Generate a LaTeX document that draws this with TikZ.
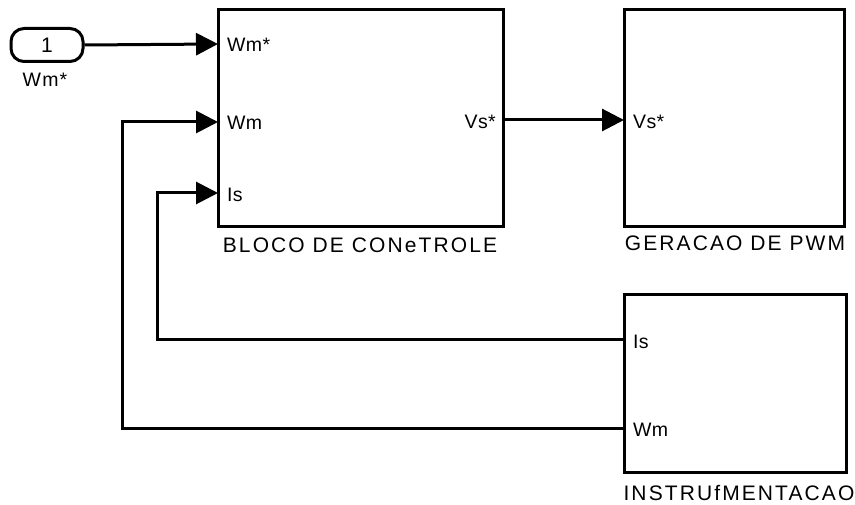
\documentclass[tikz,border=0pt]{standalone}
\usepackage{fontspec}
\setmainfont{Liberation Sans}
\newfontfamily\namefont{Liberation Sans}[LetterSpace=10]
\newfontfamily\portfont{Liberation Sans}[LetterSpace=2]
\newfontfamily\inlblfont{Liberation Sans}[LetterSpace=6]
\usetikzlibrary{arrows.meta}
\begin{document}
\begin{tikzpicture}[x=1pt,y=-1pt,
  blk/.style={draw,line width=3pt,inner sep=0pt},
  wire/.style={line width=3pt},
  sig/.style={wire,-{Triangle[length=22pt,width=22pt]}},
  lbl/.style={font=\namefont\fontsize{21}{24}\selectfont,inner sep=0pt},
  plbl/.style={font=\portfont\fontsize{19.5}{22}\selectfont,inner sep=0pt},
  pin/.style={plbl,anchor=west},
  pout/.style={plbl,anchor=east}]
\useasboundingbox (0,0) rectangle (855,505);
% blocks
\draw[blk] (218,10) rectangle (503,227);
\coordinate (ctrlWmstar) at (218,44);
\coordinate (ctrlWm) at (218,122);
\coordinate (ctrlIs) at (218,193);
\coordinate (ctrlVs) at (503,120);
\draw[blk] (624,10) rectangle (844,227);
\coordinate (pwmVs) at (624,120);
\draw[blk] (624,295) rectangle (846,472);
\coordinate (insIs) at (624,340);
\coordinate (insWm) at (624,428);
% inport
\node[draw,line width=3pt,rounded corners=13pt,minimum width=72pt,minimum height=33pt,inner sep=0pt,font=\fontsize{21}{24}\selectfont] (inp) at (47,45) {1};
\node[font=\inlblfont\fontsize{19.5}{22}\selectfont,inner sep=0pt] (inplbl) at (45,80) {Wm*};
% port labels
\node[pin] (l1) at (227,45) {Wm*};
\node[pin] (l2) at (227,123) {Wm};
\node[pin] (l3) at (227,195) {Is};
\node[pout] (l4) at (496,122) {Vs*};
\node[pin] (l5) at (633,122) {Vs*};
\node[pin] (l6) at (633,342) {Is};
\node[pin] (l7) at (633,430) {Wm};
% block names
\node[lbl] (n1) at (360,245) {BLOCO DE CONeTROLE};
\node[lbl] (n2) at (735,243) {GERACAO DE PWM};
\node[lbl] (n3) at (739,493) {INSTRUfMENTACAO};
% connectors
\draw[sig] (inp.east) -- (ctrlWmstar);
\draw[sig] (ctrlVs) -- (pwmVs);
\draw[sig] (insIs) -- (157,340) -- (157,193) -- (ctrlIs);
\draw[sig] (insWm) -- (122,428) -- (122,122) -- (ctrlWm);
\end{tikzpicture}
\end{document}
